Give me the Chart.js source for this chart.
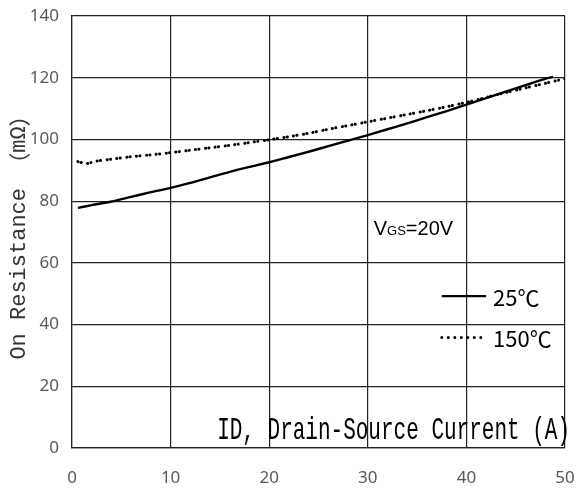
<!DOCTYPE html>
<html>
<head>
<meta charset="utf-8">
<script src="https://cdn.jsdelivr.net/npm/chart.js@4/dist/chart.umd.min.js"></script>
<style>
  html, body { margin: 0; padding: 0; background: #fff; }
  #wrap { width: 577px; height: 491px; }
</style>
</head>
<body>
<div id="wrap"><canvas id="ronChart"></canvas></div>
<script>
// On-resistance vs drain current, VGS = 20V
const current25 = [0.6, 2, 4, 6, 8, 10, 12, 14, 16, 18, 20, 22, 24, 26, 28, 30, 32, 34, 36, 38, 40, 42, 44, 46, 48, 48.8];
const ron25 = [77.8, 78.7, 79.9, 81.4, 82.9, 84.3, 85.9, 87.7, 89.5, 91.1, 92.6, 94.3, 96.0, 97.8, 99.6, 101.4, 103.3, 105.2, 107.2, 109.2, 111.3, 113.4, 115.5, 117.6, 119.6, 120.3];

const current150 = [0.6, 1.5, 2.5, 4, 6, 8, 10, 12, 14, 16, 18, 20, 22, 24, 26, 28, 30, 32, 34, 36, 38, 40, 42, 44, 46, 48, 50];
const ron150 = [92.8, 92.2, 93.0, 93.6, 94.4, 95.0, 95.7, 96.5, 97.3, 98.1, 99.0, 99.9, 100.9, 102.0, 103.3, 104.5, 105.7, 106.9, 108.1, 109.3, 110.6, 112.0, 113.6, 115.2, 116.7, 118.2, 119.7];

const xTicks = [0, 10, 20, 30, 40, 50];
const yTicks = [0, 20, 40, 60, 80, 100, 120, 140];

const seriesNames = ["25\u2103", "150\u2103"];
const yTitleParts = ["On Resistance ", "\uff08", "m\u03a9", "\uff09"];

const toPoints = (xs, ys) => xs.map((x, i) => ({ x: x, y: ys[i] }));

const GRID = "#222";
const TICK_FONT = { family: "'Noto Sans', sans-serif", size: 17 };
const MONO = "22px 'Liberation Mono', 'Courier New', monospace";
const CJK = "22px 'Noto Sans CJK SC', sans-serif";

// axis captions, legend and VGS note drawn straight onto the canvas
const insideText = {
  id: "insideText",
  afterDraw(chart) {
    const ctx = chart.ctx;
    const xs = chart.scales.x;
    const ys = chart.scales.y;
    const area = chart.chartArea;
    ctx.save();

    // y caption, rotated; the full-width brackets come from the CJK font
    const fonts = [MONO, CJK, MONO, CJK];
    let total = 0;
    const widths = yTitleParts.map((t, i) => {
      ctx.font = fonts[i];
      const w = ctx.measureText(t).width;
      total += w;
      return w;
    });
    ctx.save();
    ctx.translate(19, (area.top + area.bottom) / 2);
    ctx.rotate(-Math.PI / 2);
    ctx.fillStyle = "#333";
    ctx.textAlign = "left";
    ctx.textBaseline = "middle";
    let px = -total / 2;
    yTitleParts.forEach((t, i) => {
      ctx.font = fonts[i];
      ctx.fillText(t, px, 0);
      px += widths[i];
    });
    ctx.restore();

    // VGS=20V
    let vx = xs.getPixelForValue(30.6);
    const vy = ys.getPixelForValue(69);
    ctx.fillStyle = "#000";
    ctx.textBaseline = "alphabetic";
    ctx.textAlign = "left";
    ctx.font = "20px 'Liberation Sans', Arial, sans-serif";
    ctx.fillText("V", vx, vy);
    vx += ctx.measureText("V").width;
    ctx.font = "13px 'Liberation Sans', Arial, sans-serif";
    ctx.fillText("GS", vx, vy);
    vx += ctx.measureText("GS").width;
    ctx.font = "20px 'Liberation Sans', Arial, sans-serif";
    ctx.fillText("=20V", vx, vy);

    // legend
    const lx0 = xs.getPixelForValue(37.5);
    const lx1 = xs.getPixelForValue(42);
    const tx = xs.getPixelForValue(42.7);
    const rows = [ys.getPixelForValue(49.2), ys.getPixelForValue(35.8)];
    ctx.strokeStyle = "#000";
    ctx.textBaseline = "middle";
    ctx.font = "22px 'Liberation Sans Narrow', 'Noto Sans CJK SC', sans-serif";
    chart.data.datasets.forEach((ds, i) => {
      const y = rows[i];
      ctx.beginPath();
      ctx.lineWidth = i === 0 ? 2.2 : 3;
      ctx.lineCap = i === 0 ? "butt" : "round";
      ctx.setLineDash(i === 0 ? [] : [0.1, 6.4]);
      ctx.moveTo(lx0, y);
      ctx.lineTo(lx1, y);
      ctx.stroke();
      ctx.setLineDash([]);
      ctx.fillText(ds.label, tx, y + 1);
    });

    // x caption, inside the plot at the bottom right
    ctx.font = "21px 'Liberation Mono', 'Courier New', monospace";
    ctx.textAlign = "right";
    ctx.textBaseline = "alphabetic";
    ctx.translate(area.right + 5, ys.getPixelForValue(2.8));
    ctx.scale(1, 1.5);
    ctx.fillText("ID, Drain-Source Current (A)", 0, 0);
    ctx.restore();
  }
};

new Chart(document.getElementById("ronChart"), {
  type: "line",
  data: {
    datasets: [
      {
        label: seriesNames[0],
        data: toPoints(current25, ron25),
        borderColor: "#000",
        borderWidth: 2.4,
        pointRadius: 0,
        tension: 0.3,
        fill: false
      },
      {
        label: seriesNames[1],
        data: toPoints(current150, ron150),
        borderColor: "#000",
        borderWidth: 3,
        borderDash: [0.1, 3.3, 0.1, 6.4],
        borderCapStyle: "round",
        pointRadius: 0,
        tension: 0.3,
        fill: false
      }
    ]
  },
  options: {
    responsive: true,
    maintainAspectRatio: false,
    animation: false,
    layout: { padding: { left: 0, right: 12, top: 16, bottom: 0 } },
    plugins: {
      legend: { display: false },
      tooltip: { enabled: false }
    },
    scales: {
      x: {
        type: "linear",
        min: 0,
        max: 50,
        afterBuildTicks: (scale) => { scale.ticks = xTicks.map((v) => ({ value: v })); },
        afterFit: (scale) => {
          scale.height = 43;
          scale.paddingLeft = 0;
          scale.paddingRight = 0;
        },
        grid: { color: GRID, lineWidth: 1.2, drawTicks: false },
        border: { color: GRID, width: 1.2 },
        ticks: { color: "#595959", font: TICK_FONT, padding: 20, maxRotation: 0 }
      },
      y: {
        min: 0,
        max: 140,
        afterBuildTicks: (scale) => { scale.ticks = yTicks.map((v) => ({ value: v })); },
        afterFit: (scale) => {
          scale.width = 72;
          scale.paddingTop = 0;
          scale.paddingBottom = 0;
        },
        grid: { color: GRID, lineWidth: 1.2, drawTicks: false },
        border: { color: GRID, width: 1.2 },
        ticks: { color: "#595959", font: TICK_FONT, padding: 13 }
      }
    }
  },
  plugins: [insideText]
});
</script>
</body>
</html>
